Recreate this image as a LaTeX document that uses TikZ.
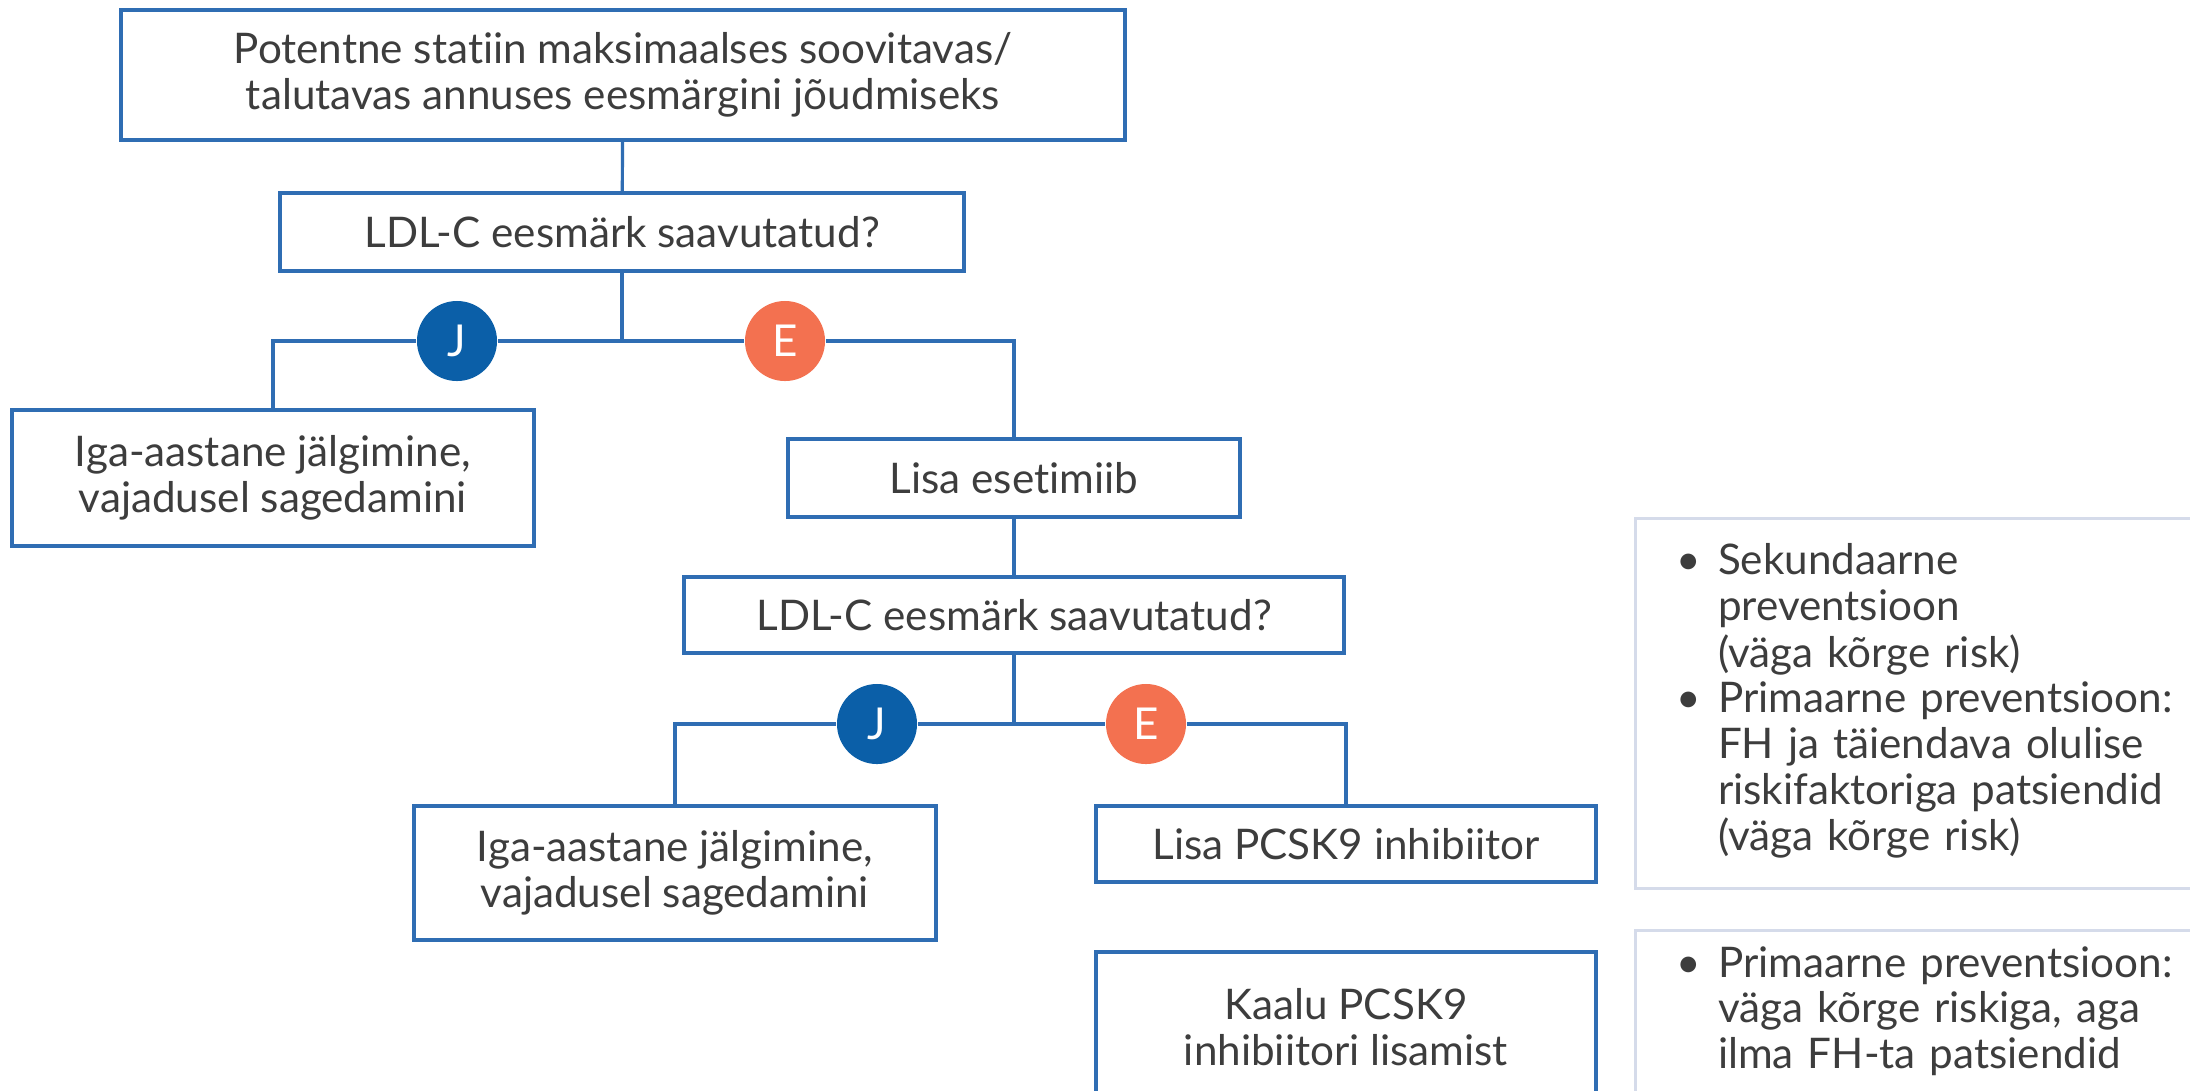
\documentclass[tikz,border=0pt]{standalone}
\usepackage{fontspec}
\setmainfont{Lato}[Ligatures=NoCommon]
\definecolor{boxblue}{HTML}{2F6DB3}
\definecolor{jblue}{HTML}{0B5FA8}
\definecolor{eorange}{HTML}{F37150}
\definecolor{textgray}{HTML}{3D3D3D}
\definecolor{infoline}{HTML}{D5DBEA}
\tikzset{
  box/.style={draw=boxblue, line width=1.1pt, text=textgray, align=center, inner sep=0pt},
  link/.style={draw=boxblue, line width=0.9pt},
  ansj/.style={circle, fill=jblue, text=white, minimum size=0.8cm, inner sep=0pt, font=\fontsize{12.5pt}{14pt}\selectfont},
  anse/.style={ansj, fill=eorange},
  info/.style={draw=infoline, line width=0.9pt, text=textgray, align=left, inner xsep=0.41cm, inner ysep=0pt},
}
\begin{document}
\begin{tikzpicture}[x=0.01cm, y=-0.01cm, font=\fontsize{12pt}{13pt}\selectfont]
  \useasboundingbox (0,0) rectangle (2190,1090);
  % main column
  \node[box, minimum width=10.03cm, minimum height=1.30cm] (start) at (623,75)
    {Potentne statiin maksimaalses soovitavas/\\talutavas annuses eesmärgini jõudmiseks};
  \node[box, minimum width=6.84cm, minimum height=0.78cm] (q1) at (622,232) {LDL-C eesmärk saavutatud?};
  \node[ansj] (j1) at (457,341) {J};
  \node[anse] (e1) at (785,341) {E};
  \node[box, minimum width=5.21cm, minimum height=1.36cm] (yes1) at (273,478)
    {Iga-aastane jälgimine,\\vajadusel sagedamini};
  \node[box, minimum width=4.52cm, minimum height=0.78cm] (eze) at (1014,478) {Lisa esetimiib};
  \node[box, minimum width=6.60cm, minimum height=0.76cm] (q2) at (1014,615) {LDL-C eesmärk saavutatud?};
  \node[ansj] (j2) at (877,724) {J};
  \node[anse] (e2) at (1146,724) {E};
  \node[box, minimum width=5.21cm, minimum height=1.34cm] (yes2) at (675,873)
    {Iga-aastane jälgimine,\\vajadusel sagedamini};
  \node[box, minimum width=4.99cm, minimum height=0.76cm] (pcsk) at (1346,844) {Lisa PCSK9 inhibiitor};
  \node[box, minimum width=4.99cm, minimum height=1.50cm] (kaalu) at (1346,1027)
    {Kaalu PCSK9\\inhibiitori lisamist};

  % side notes
  \node[info, anchor=north west, text width=5.9cm, minimum height=3.70cm] (info1) at (1634,517)
    {\begin{tabular}{@{}l@{\hspace{0.17cm}}l@{}}
      • & Sekundaarne\\
        & preventsioon\\
        & (väga kõrge risk)\\
      • & Primaarne preventsioon:\\
        & FH ja täiendava olulise\\
        & riskifaktoriga patsiendid\\
        & (väga kõrge risk)
    \end{tabular}};
  \node[info, anchor=north west, text width=5.9cm, minimum height=1.66cm] (info2) at (1634,929)
    {\begin{tabular}{@{}l@{\hspace{0.17cm}}l@{}}
      • & Primaarne preventsioon:\\
        & väga kõrge riskiga, aga\\
        & ilma FH-ta patsiendid
    \end{tabular}};

  % connectors
  \draw[link] (start) -- (q1);
  \draw[link] (q1.south) -- (q1.south |- j1.center);
  \draw[link] (j1.east) -- (e1.west);
  \draw[link] (j1.west) -| (yes1.north);
  \draw[link] (e1.east) -| (eze.north);
  \draw[link] (eze) -- (q2);
  \draw[link] (q2.south) -- (q2.south |- j2.center);
  \draw[link] (j2.east) -- (e2.west);
  \draw[link] (j2.west) -| (yes2.north);
  \draw[link] (e2.east) -| (pcsk.north);
\end{tikzpicture}
\end{document}
